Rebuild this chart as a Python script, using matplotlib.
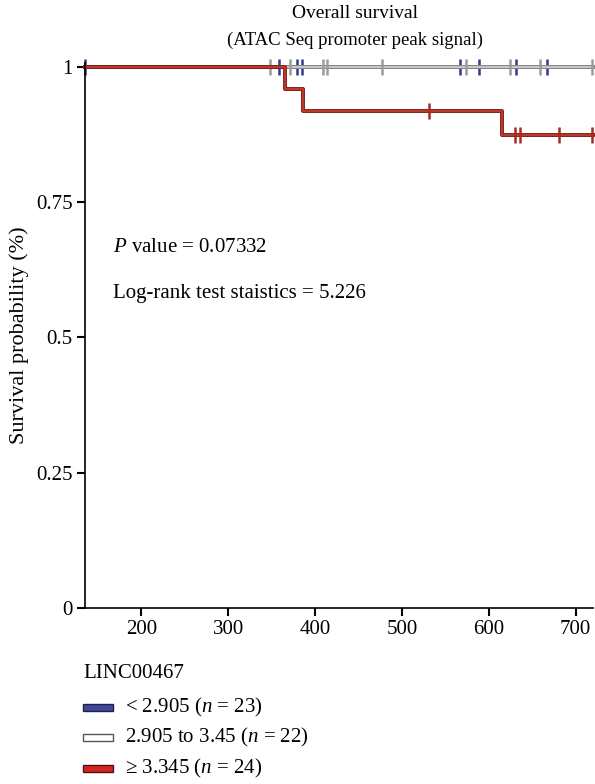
import numpy as np
import matplotlib
matplotlib.use("Agg")
import matplotlib.pyplot as plt
import matplotlib.patheffects as pe
from matplotlib.patches import Rectangle

plt.rcParams['font.family'] = ['Liberation Serif', 'DejaVu Serif']
plt.rcParams['mathtext.fontset'] = 'custom'
plt.rcParams['mathtext.rm'] = 'Liberation Serif'
plt.rcParams['mathtext.it'] = 'Liberation Serif:italic'

# survival curves (step start times and levels)
low_times = [135, 720]
low_surv = [1.0, 1.0]
low_censor = [135, 358.5, 379, 385, 566.7, 588.6, 630.9, 666.6]

mid_times = [135, 720]
mid_surv = [1.0, 1.0]
mid_censor = [348.6, 370.9, 408.5, 413.8, 476.5, 573.6, 624.3, 659, 719]

high_times = [135, 365, 385.5, 614.7, 720]
high_surv = [1.0, 0.958, 0.917, 0.873, 0.873]
high_censor = [531.3, 630, 635.8, 680.7, 719]

legend_title = 'LINC00467'
legend_labels = [r'< 2.905 ($n$ = 23)', r'2.905 to 3.45 ($n$ = 22)', r'≥ 3.345 ($n$ = 24)']
legend_colors = ['#3f47a0', 'white', '#d4261e']
legend_edges = ['#222244', '#555555', '#551111']
p_text = r'$P$ value = 0.07332'
lr_text = 'Log-rank test staistics = 5.226'


def level_at(times, surv, t):
    idx = np.searchsorted(times, t, side='right') - 1
    return np.array(surv)[np.clip(idx, 0, len(surv) - 1)]


fig = plt.figure(figsize=(5.95, 7.84), dpi=100)
ax = fig.add_axes([85 / 595, 1 - 608 / 784, 508 / 595, 545 / 784])

groups = [
    (low_times, low_surv, low_censor, '#3a45a0', '#2a2f80', '#2e3a8c'),
    (mid_times, mid_surv, mid_censor, '#c8c8c8', '#8c8c8c', '#9a9a9a'),
    (high_times, high_surv, high_censor, '#c0392b', '#7a1c14', '#a82a20'),
]
for times, surv, cens, inner, outer, mcol in groups:
    ax.step(times, surv, where='post', color=inner, lw=1.4, clip_on=False,
            path_effects=[pe.Stroke(linewidth=2.8, foreground=outer), pe.Normal()])
    ax.plot(cens, level_at(times, surv, cens), ls='none', marker='|',
            ms=11, mew=1.8, color=mcol, clip_on=False)

ax.set_xlim(135, 720)
ax.set_ylim(0, 1.0065)
ax.set_xticks([200, 300, 400, 500, 600, 700])
ax.set_yticks([0, 0.25, 0.5, 0.75, 1])
ax.set_yticklabels(['0', '0.25', '0.5', '0.75', '1'])
ax.tick_params(labelsize=15, length=6, width=1.5, direction='out', pad=3)
for s in ['top', 'right']:
    ax.spines[s].set_visible(False)
for s in ['left', 'bottom']:
    ax.spines[s].set_linewidth(1.2)
ax.set_ylabel('Survival probability (%)', fontsize=16)
ax.yaxis.set_label_coords((29 - 85) / 508, 0.5)

fig.text(113 / 595, 1 - 247 / 784, p_text, fontsize=15, va='center', ha='left')
fig.text(113 / 595, 1 - 293 / 784, lr_text, fontsize=15, va='center', ha='left')

fig.text(355 / 595, 1 - 13 / 784, 'Overall survival', fontsize=14, ha='center', va='center')
fig.text(355 / 595, 1 - 40 / 784, '(ATAC Seq promoter peak signal)', fontsize=13.5,
         ha='center', va='center')

# legend drawn by hand
fig.text(83 / 595, 1 - 673 / 784, legend_title, fontsize=15, ha='left', va='center')
for i, (lab, fc, ec) in enumerate(zip(legend_labels, legend_colors, legend_edges)):
    yc = 707 + i * 30.5
    fig.add_artist(Rectangle((83 / 595, 1 - (yc + 3.5) / 784), 30 / 595, 7 / 784,
                             facecolor=fc, edgecolor=ec, lw=1.0,
                             transform=fig.transFigure))
    fig.text(125 / 595, 1 - yc / 784, lab, fontsize=15, ha='left', va='center')

fig.savefig('out.png', dpi=100)
